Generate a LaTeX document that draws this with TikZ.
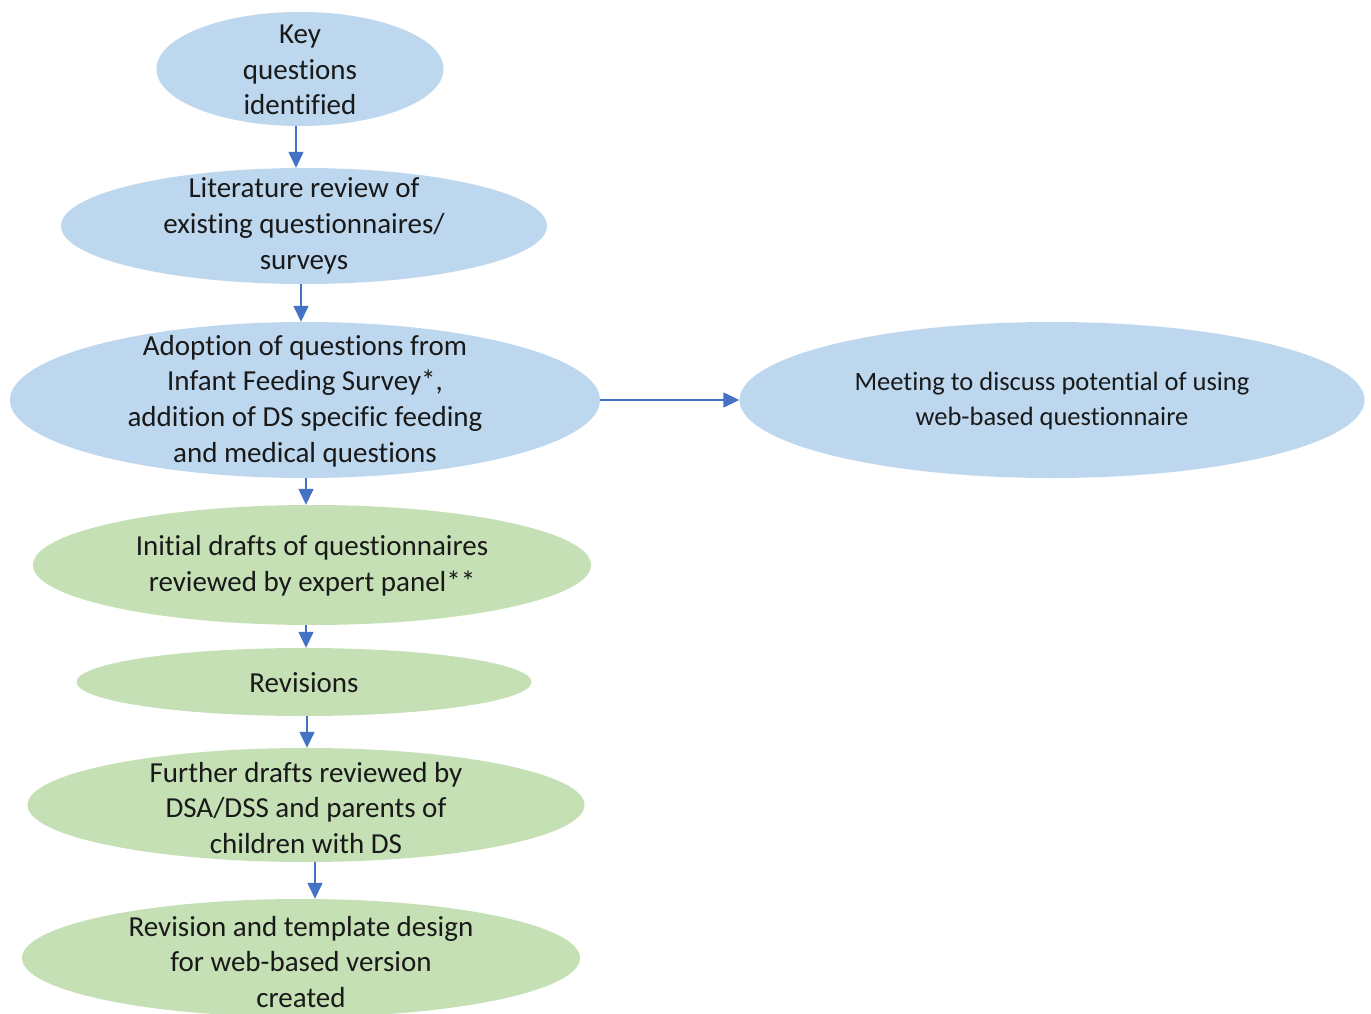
\documentclass[tikz,border=0pt]{standalone}
\usepackage{fontspec}
\setmainfont{Carlito}[Ligatures=NoCommon]
\usetikzlibrary{shapes.geometric,arrows.meta,calc}
\definecolor{stepblue}{HTML}{BDD7EE}
\definecolor{stepgreen}{HTML}{C5E0B4}
\definecolor{arrowblue}{HTML}{4472C4}
\begin{document}
\begin{tikzpicture}[x=1pt,y=-1pt,
  ellbase/.style={ellipse,inner sep=0pt,draw=none},
  blueell/.style={ellbase,fill=stepblue},
  greenell/.style={ellbase,fill=stepgreen},
  txt/.style={align=center,inner sep=0pt,font=\fontsize{29}{35.7}\selectfont,text=black!90},
  flow/.style={draw=arrowblue,line width=1.4pt,-{Triangle[length=16pt,width=15pt]}}]
\clip (0,0) rectangle (1371,1014);
\fill[white] (0,0) rectangle (1371,1014);

% stages of the process
\node[blueell,minimum width=287,minimum height=114] (key) at (300,69) {};
\node[txt] at (300,70) {Key\\questions\\identified};

\node[blueell,minimum width=486,minimum height=116] (lit) at (304,226) {};
\node[txt] at (304,226) {Literature review of\\existing questionnaires/\\surveys};

\node[blueell,minimum width=590,minimum height=156] (adopt) at (305,400) {};
\node[txt] at (305,401) {Adoption of questions from\\Infant Feeding Survey*,\\addition of DS specific feeding\\and medical questions};

\node[blueell,minimum width=625,minimum height=156] (meet) at (1052,400) {};
\node[txt,font=\fontsize{26.5}{35.5}\selectfont] at (1052,401) {Meeting to discuss potential of using\\web-based questionnaire};

\node[greenell,minimum width=558,minimum height=120] (init) at (312,565) {};
\node[txt] at (312,566) {Initial drafts of questionnaires\\reviewed by expert panel**};

\node[greenell,minimum width=455,minimum height=68] (rev) at (304,682) {};
\node[txt] at (304,683) {Revisions};

\node[greenell,minimum width=557,minimum height=114] (further) at (306,805) {};
\node[txt] at (306,808) {Further drafts reviewed by\\DSA/DSS and parents of\\children with DS};

\node[greenell,minimum width=558,minimum height=118] (final) at (301,958) {};
\node[txt] at (301,962) {Revision and template design\\for web-based version\\created};

% connectors
\draw[flow] ([xshift=-4pt]key.south) -- ([xshift=-4pt]key.south |- lit.north);
\draw[flow] ([xshift=-3pt]lit.south) -- ([xshift=-3pt]lit.south |- adopt.north);
\draw[flow] ([xshift=1pt]adopt.south) -- ([xshift=1pt]adopt.south |- init.north);
\draw[flow] ([xshift=-6pt]init.south) -- ([xshift=-6pt]init.south |- rev.north);
\draw[flow] ([xshift=3pt]rev.south) -- ([xshift=3pt]rev.south |- further.north);
\draw[flow] ([xshift=9pt]further.south) -- ([xshift=9pt]further.south |- final.north);
\draw[flow] (adopt.east) -- (meet.west);
\end{tikzpicture}
\end{document}
